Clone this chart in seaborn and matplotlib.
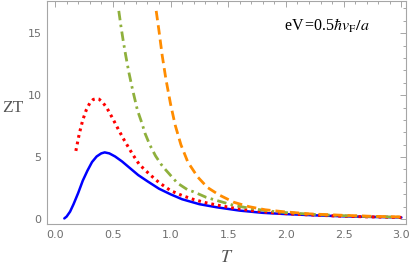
import numpy as np
import pandas as pd
import matplotlib
matplotlib.use("Agg")
import matplotlib.pyplot as plt
from matplotlib.ticker import MultipleLocator
import seaborn as sns

# values
t_blue = [0.08, 0.10, 0.13, 0.16, 0.20, 0.24, 0.28, 0.32, 0.36, 0.40, 0.43, 0.47, 0.52,
          0.58, 0.65, 0.72, 0.80, 0.90, 1.00, 1.10, 1.25, 1.40, 1.60, 1.80, 2.00, 2.25,
          2.50, 2.75, 3.00]
zt_blue = [0.05, 0.2, 0.6, 1.2, 2.1, 3.1, 3.9, 4.6, 5.05, 5.3, 5.38, 5.3, 5.05,
           4.65, 4.1, 3.55, 3.05, 2.45, 2.0, 1.6, 1.2, 0.95, 0.68, 0.5, 0.4, 0.3,
           0.22, 0.17, 0.13]

t_red = [0.18, 0.21, 0.24, 0.27, 0.30, 0.33, 0.36, 0.38, 0.41, 0.45, 0.50, 0.55, 0.60,
         0.67, 0.73, 0.82, 0.90, 1.00, 1.10, 1.20, 1.30, 1.40, 1.55, 1.70, 1.90, 2.10,
         2.40, 2.70, 3.00]
zt_red = [5.5, 6.9, 8.0, 8.8, 9.35, 9.65, 9.72, 9.68, 9.45, 8.95, 8.1, 7.2, 6.35,
          5.25, 4.4, 3.6, 2.95, 2.3, 1.9, 1.58, 1.33, 1.13, 0.88, 0.68, 0.5, 0.38,
          0.26, 0.18, 0.13]

t_green = [0.552, 0.57, 0.59, 0.612, 0.64, 0.67, 0.713, 0.75, 0.78, 0.82, 0.87, 0.92,
           0.96, 1.06, 1.15, 1.20, 1.31, 1.40, 1.55, 1.70, 1.85, 2.00, 2.25, 2.50,
           2.75, 3.00]
zt_green = [16.8, 15.6, 14.4, 13.2, 11.8, 10.5, 8.8, 7.8, 6.9, 6.0, 5.1, 4.4,
            3.95, 2.9, 2.35, 2.2, 1.75, 1.5, 1.1, 0.85, 0.65, 0.52, 0.37, 0.27,
            0.2, 0.15]

t_orange = [0.876, 0.90, 0.928, 0.96, 1.00, 1.04, 1.09, 1.15, 1.235, 1.32, 1.42, 1.55,
            1.68, 1.82, 1.97, 2.20, 2.50, 2.75, 3.00]
zt_orange = [16.8, 15.2, 13.2, 11.3, 9.3, 7.6, 6.0, 4.6, 3.4, 2.55, 1.95, 1.35,
             1.0, 0.75, 0.6, 0.42, 0.3, 0.22, 0.17]

x_ticks = [0.0, 0.5, 1.0, 1.5, 2.0, 2.5, 3.0]
y_ticks = [0, 5, 10, 15]

sns.set_style("white")
plt.rcParams['mathtext.fontset'] = 'stix'

fig = plt.figure(figsize=(4.11, 2.71), dpi=100)
ax = fig.add_axes([47/411, 1-224/271, (406-47)/411, (224-1)/271])

series = [
    (t_blue, zt_blue, '#0000ff', '-', 1.8),
    (t_red, zt_red, '#ff0000', (0, (0.9, 1.3)), 2.2),
    (t_green, zt_green, '#8fb03c', (0, (3.4, 1.6, 0.9, 1.6)), 2.0),
    (t_orange, zt_orange, '#ff8c00', (0, (3.4, 1.8)), 2.0),
]
for t, zt, col, ls, lw in series:
    df = pd.DataFrame({'T': t, 'ZT': zt})
    sns.lineplot(data=df, x='T', y='ZT', color=col, linestyle=ls, linewidth=lw,
                 sort=False, estimator=None, ax=ax)

ax.set_xlim(-0.07, 3.04)
ax.set_ylim(-0.4, 17.6)
ax.set_xticks(x_ticks)
ax.set_xticklabels([f"{v:.1f}" for v in x_ticks])
ax.set_yticks(y_ticks)
ax.xaxis.set_minor_locator(MultipleLocator(0.1))
ax.yaxis.set_minor_locator(MultipleLocator(1))

frame = '#a6a6a6'
for s in ax.spines.values():
    s.set_color(frame)
    s.set_linewidth(0.8)
ax.tick_params(which='both', direction='in', top=True, right=True, color=frame,
               width=0.7, labelsize=8, labelcolor='#6e6e6e')
ax.tick_params(which='major', length=4, pad=4)
ax.tick_params(which='minor', length=2.2)

ax.set_xlabel('')
ax.set_ylabel('')
fig.text(13/411, 1-108/271, 'ZT', fontname='Liberation Serif', fontsize=12.5,
         color='#555555', ha='center', va='center')
fig.text(227/411, 1-257/271, '$T$', fontsize=13, color='#555555',
         ha='center', va='center')
ax.text(0.66, 0.89, r'eV$\,$=0.5$\hbar v_{\rm F}/a$', transform=ax.transAxes,
        fontsize=11.5, fontname='Liberation Serif', color='black', ha='left', va='center')

fig.savefig('out.png', dpi=100)
